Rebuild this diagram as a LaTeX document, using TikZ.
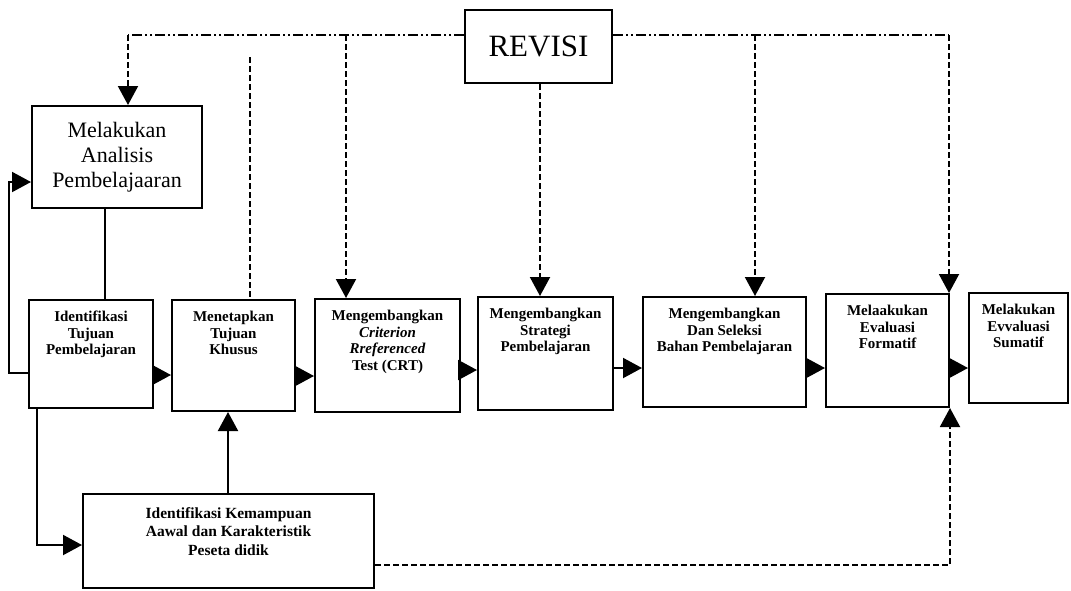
\documentclass[tikz,border=0pt]{standalone}
\usepackage{fontspec}
\setmainfont{Liberation Serif}
\usetikzlibrary{arrows.meta}

\tikzset{
  stage/.style={draw, line width=2pt, inner sep=0pt},
  caption/.style={anchor=north, yshift=-12pt, inner sep=0pt, align=center,
    font=\bfseries\fontsize{15}{16.5}\selectfont},
  link/.style={line width=2pt},
  tip/.style={-{Triangle[length=19pt, width=20pt]}},
  flow/.style={link, tip},
  fb/.style={line width=2pt, dash pattern=on 6pt off 3pt},
  fbtop/.style={line width=2pt, dash pattern=on 10pt off 3pt on 2pt off 3pt on 2pt off 3pt},
}

\begin{document}
\begin{tikzpicture}[x=1pt, y=-1pt]
  \useasboundingbox (0,0) rectangle (1071,590);

  % kotak
  \node[stage, minimum width=147, minimum height=73, font=\fontsize{31}{36}\selectfont] (revisi) at (538.5,46.5) {REVISI};
  \node[stage, minimum width=170, minimum height=102, align=center, font=\fontsize{22}{25}\selectfont] (analisis) at (117,157) {Melakukan\\Analisis\\Pembelajaaran};

  \node[stage, minimum width=124, minimum height=108, label={[caption]north:{Identifikasi\\Tujuan\\Pembelajaran}}] (tujuan) at (91,354) {};
  \node[stage, minimum width=123, minimum height=111, label={[caption]north:{Menetapkan\\Tujuan\\Khusus}}] (khusus) at (233.5,355.5) {};
  \node[stage, minimum width=145, minimum height=113, label={[caption]north:{Mengembangkan\\\textit{Criterion}\\\textit{Rreferenced}\\Test (CRT)}}] (crt) at (387.5,355.5) {};
  \node[stage, minimum width=135, minimum height=113, label={[caption]north:{Mengembangkan\\Strategi\\Pembelajaran}}] (strategi) at (545.5,353.5) {};
  \node[stage, minimum width=163, minimum height=110, label={[caption]north:{Mengembangkan\\Dan Seleksi\\Bahan Pembelajaran}}] (bahan) at (724.5,352) {};
  \node[stage, minimum width=123, minimum height=113, label={[caption]north:{Melaakukan\\Evaluasi\\Formatif}}] (formatif) at (887.5,350.5) {};
  \node[stage, minimum width=99, minimum height=110, label={[caption]north:{Melakukan\\Evvaluasi\\Sumatif}}] (sumatif) at (1018.5,348) {};
  \node[stage, minimum width=291, minimum height=94, label={[caption, yshift=-2pt, font=\bfseries\fontsize{15.5}{18.5}\selectfont]north:{Identifikasi Kemampuan\\Aawal dan Karakteristik\\Peseta didik}}] (kemampuan) at (228.5,541) {};

  % alur utama
  \draw[flow] (tujuan.east |- 0,375) -- (khusus.west |- 0,375);
  \draw[flow] (khusus.east |- 0,376) -- (crt.west |- 0,376);
  \draw[flow] (crt.east |- 0,370) -- (strategi.west |- 0,370);
  \draw[flow] (strategi.east |- 0,368) -- (bahan.west |- 0,368);
  \draw[flow] (bahan.east |- 0,368) -- (formatif.west |- 0,368);
  \draw[flow] (formatif.east |- 0,368) -- (sumatif.west |- 0,368);

  \draw[flow] (tujuan.west |- 0,373) -| (9,182) -- (analisis.west |- 0,182);
  \draw[link] (analisis.south -| 105,0) -- (tujuan.north -| 105,0);
  \draw[flow] (tujuan.south -| 37,0) |- (kemampuan.west |- 0,545);
  \draw[flow] (kemampuan.north -| 228,0) -- (khusus.south -| 228,0);

  % revisi
  \coordinate (cl) at (128,35);
  \coordinate (jc) at (346,35);
  \coordinate (jb) at (755,35);
  \coordinate (cr) at (949,35);
  \coordinate (ks) at (250,57);

  \draw[fbtop] (revisi.west |- cl) -- (cl);
  \draw[fbtop] (revisi.east |- cr) -- (cr);
  \draw[fb, tip] (cl) -- (cl |- analisis.north);
  \draw[fb, tip] (jc) -- (jc |- crt.north);
  \draw[fb] (ks) -- (ks |- khusus.north);
  \draw[fb, tip] (revisi.south -| 540,0) -- (strategi.north -| 540,0);
  \draw[fb, tip] (jb) -- (jb |- bahan.north);
  \draw[fb, tip] (cr) -- (cr |- formatif.north);
  \draw[fb, tip] (kemampuan.east |- 0,565) -| (formatif.south east);
\end{tikzpicture}
\end{document}
